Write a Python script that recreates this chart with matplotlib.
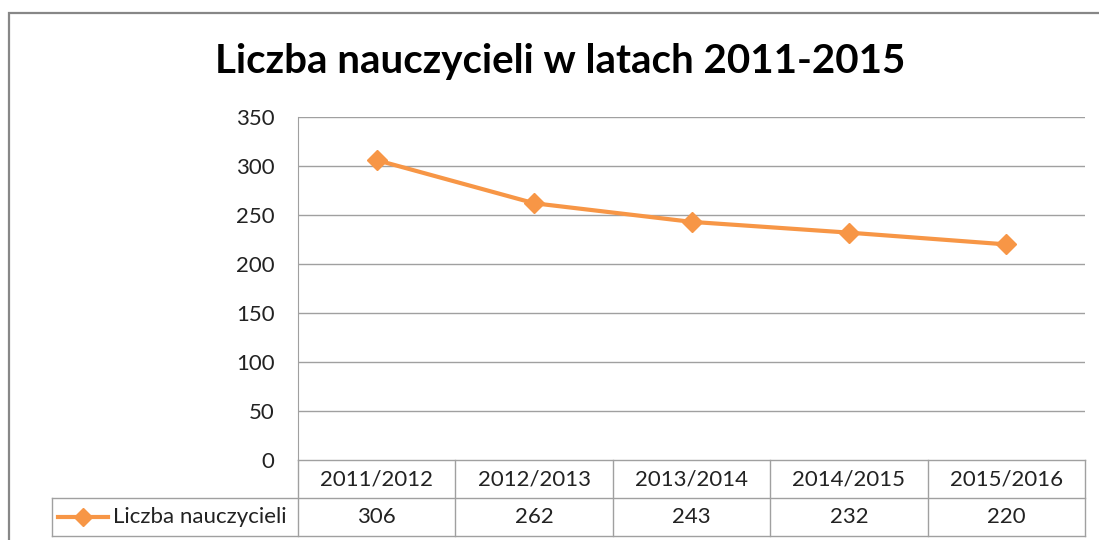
import matplotlib.pyplot as plt
from matplotlib.lines import Line2D
from matplotlib.patches import Rectangle

title = "Liczba nauczycieli w latach 2011-2015"
series_name = "Liczba nauczycieli"
years = ["2011/2012", "2012/2013", "2013/2014", "2014/2015", "2015/2016"]
teachers = [306, 262, 243, 232, 220]
y_ticks = [0, 50, 100, 150, 200, 250, 300, 350]

W, H = 1099, 540
orange = "#F79646"
grey = "#A0A0A0"
font = "Lato"
fs = 16

fig = plt.figure(figsize=(W / 100, H / 100), dpi=100)


def fx(px):
    return px / W


def fy(py):
    return 1 - py / H


def hline(x0, x1, y, color=grey, lw=1.0):
    fig.add_artist(Line2D([fx(x0), fx(x1)], [fy(y), fy(y)], color=color, lw=lw))


def vline(x, y0, y1, color=grey, lw=1.0):
    fig.add_artist(Line2D([fx(x), fx(x)], [fy(y0), fy(y1)], color=color, lw=lw))


# outer chart frame (runs off the picture at right and bottom)
fig.add_artist(Rectangle((fx(9), fy(560)), fx(1120) - fx(9), fy(13) - fy(560),
                         fill=False, edgecolor="#878787", lw=1.6))

left, right, top, bottom = 298, 1085, 117, 460
ax = fig.add_axes([fx(left), fy(bottom), fx(right) - fx(left), fy(top) - fy(bottom)])
ax.set_xlim(0, len(years))
ax.set_ylim(0, 350)
ax.set_yticks(y_ticks)
ax.set_yticklabels([str(v) for v in y_ticks], fontsize=fs, family=font, color="#222222")
ax.tick_params(axis="y", length=0, pad=17)
ax.set_xticks([])
for s in ["top", "right", "bottom"]:
    ax.spines[s].set_visible(False)
ax.spines["left"].set_color(grey)
for v in y_ticks[1:]:
    ax.axhline(v, color=grey, lw=1.0, zorder=1)

xs = [i + 0.5 for i in range(len(years))]
ax.plot(xs, teachers, color=orange, lw=3, marker="D", markersize=10,
        markeredgecolor=orange, zorder=3, clip_on=False)

fig.text(fx(560), fy(62), title, ha="center", va="center", fontsize=29,
         fontweight="bold", family=font)

# data table under the plot
row1, row2, row3 = 460, 498, 536
leg_left = 52
col_w = (right - left) / len(years)
hline(left, right, row1)
hline(leg_left, right, row2)
hline(leg_left, right, row3)
vline(leg_left, row2, row3)
for i in range(len(years) + 1):
    vline(left + i * col_w, row1, row3)
for i, (yr, val) in enumerate(zip(years, teachers)):
    cx = left + (i + 0.5) * col_w
    fig.text(fx(cx), fy((row1 + row2) / 2), yr, ha="center", va="center",
             fontsize=fs, family=font, color="#222222")
    fig.text(fx(cx), fy((row2 + row3) / 2), str(val), ha="center", va="center",
             fontsize=fs, family=font, color="#222222")

ly = (row2 + row3) / 2
fig.add_artist(Line2D([fx(58), fx(108)], [fy(ly), fy(ly)], color=orange, lw=3))
fig.add_artist(Line2D([fx(83)], [fy(ly)], color=orange, marker="D", markersize=9))
fig.text(fx(113), fy(ly), series_name, ha="left", va="center",
         fontsize=fs, family=font, color="#222222")

fig.savefig("out.png", dpi=100)
